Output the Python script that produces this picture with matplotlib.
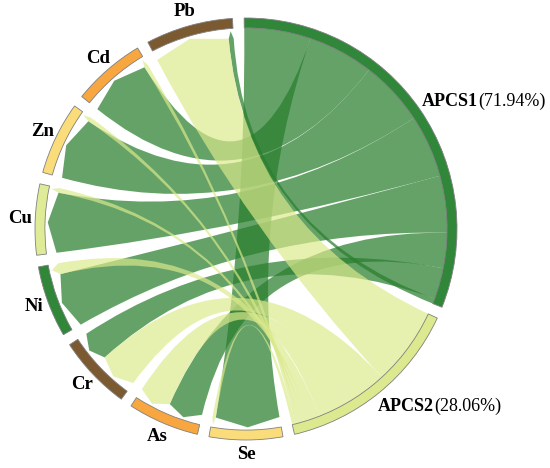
import numpy as np
import matplotlib.pyplot as plt
from matplotlib.path import Path
from matplotlib.patches import PathPatch, Wedge

# sources and their share labels
sources = ['APCS1', 'APCS2']
source_share = ['(71.94%)', '(28.06%)']
# elements in clockwise order after APCS2
elements = ['Se', 'As', 'Cr', 'Ni', 'Cu', 'Zn', 'Cd', 'Pb']
apcs1 = [19.2, 10.2, 9.0, 16.4, 18.1, 18.8, 19.0, 1.5]
apcs2 = [1.0, 9.5, 11.5, 3.3, 1.4, 1.3, 1.2, 22.5]

bar_colors = {'APCS1': '#30873a', 'APCS2': '#dde98f',
              'Se': '#fbdc7a', 'As': '#f7a640', 'Cr': '#7b5a32', 'Ni': '#30873a',
              'Cu': '#dfeb96', 'Zn': '#fbdc7a', 'Cd': '#f7a640', 'Pb': '#7b5a32'}
link_colors = {'APCS1': ('#2a7f2e', 0.72), 'APCS2': ('#dbe98a', 0.68)}

plt.rcParams['font.family'] = ['Liberation Serif', 'DejaVu Serif']

links = []
for i, el in enumerate(elements):
    links.append(('APCS1', el, apcs1[i]))
    links.append(('APCS2', el, apcs2[i]))

sectors = sources + elements
totals = {s: sum(v for a, b, v in links if s in (a, b)) for s in sectors}
gap = 3.2
scale = (360 - gap * len(sectors)) / sum(totals.values())

# sector angles, clockwise from the top
start = 90.5
sec_range = {}
for s in sectors:
    w = totals[s] * scale
    sec_range[s] = (start, start - w)
    start = start - w - gap

# position links inside sectors, largest first (clockwise)
pos = {}
for s in sectors:
    mine = [l for l in links if s in (l[0], l[1])]
    mine.sort(key=lambda l: -l[2])
    a = sec_range[s][0]
    for l in mine:
        w = l[2] * scale
        pos[(s, l)] = (a, a - w)
        a -= w


def pt(ang, r):
    t = np.deg2rad(ang)
    return (r * np.cos(t), r * np.sin(t))


def arc(a1, a2, r, n=40):
    return [pt(a, r) for a in np.linspace(a1, a2, n)]


fig = plt.figure(figsize=(5.5, 4.68), dpi=100)
ax = fig.add_axes([0, 0, 1, 1])
R = 211.0
ax.set_xlim(-246 / R, (550 - 246) / R)
ax.set_ylim(-(468 - 229) / R, 229 / R)
ax.set_aspect('equal')
ax.axis('off')

rs, rt, rtip = 0.955, 0.905, 0.94
for src in sources:
    for l in links:
        if l[0] != src:
            continue
        a1, a2 = pos[(l[0], l)]
        b1, b2 = pos[(l[1], l)]
        verts = arc(a1, a2, rs)
        codes = [Path.MOVETO] + [Path.LINETO] * (len(verts) - 1)
        verts += [(0, 0), pt(b1, rt)]
        codes += [Path.CURVE3, Path.CURVE3]
        verts += [pt((b1 + b2) / 2, rtip), pt(b2, rt)]
        codes += [Path.LINETO, Path.LINETO]
        verts += [(0, 0), pt(a1, rs)]
        codes += [Path.CURVE3, Path.CURVE3]
        col, al = link_colors[src]
        ax.add_patch(PathPatch(Path(verts, codes), facecolor=col, alpha=al, lw=0))

for s in sectors:
    a1, a2 = sec_range[s]
    ax.add_patch(Wedge((0, 0), 1.0, a2, a1, width=0.047, facecolor=bar_colors[s],
                       edgecolor='#808080', lw=0.6))

for s in elements:
    a1, a2 = sec_range[s]
    x, y = pt((a1 + a2) / 2, 1.07)
    ax.text(x, y, s, ha='center', va='center', fontsize=13.5, fontweight='bold')

for s, share, dang, rr in zip(sources, source_share, [1.5, -2.5], [1.03, 1.05]):
    a1, a2 = sec_range[s]
    x, y = pt((a1 + a2) / 2 + dang, rr)
    t1 = ax.text(x, y, s, ha='left', va='center', fontsize=13, fontweight='bold')
    ax.annotate(share, xy=(1, 0), xycoords=t1, ha='left', va='bottom', fontsize=13)

fig.savefig('out.png', dpi=100)
